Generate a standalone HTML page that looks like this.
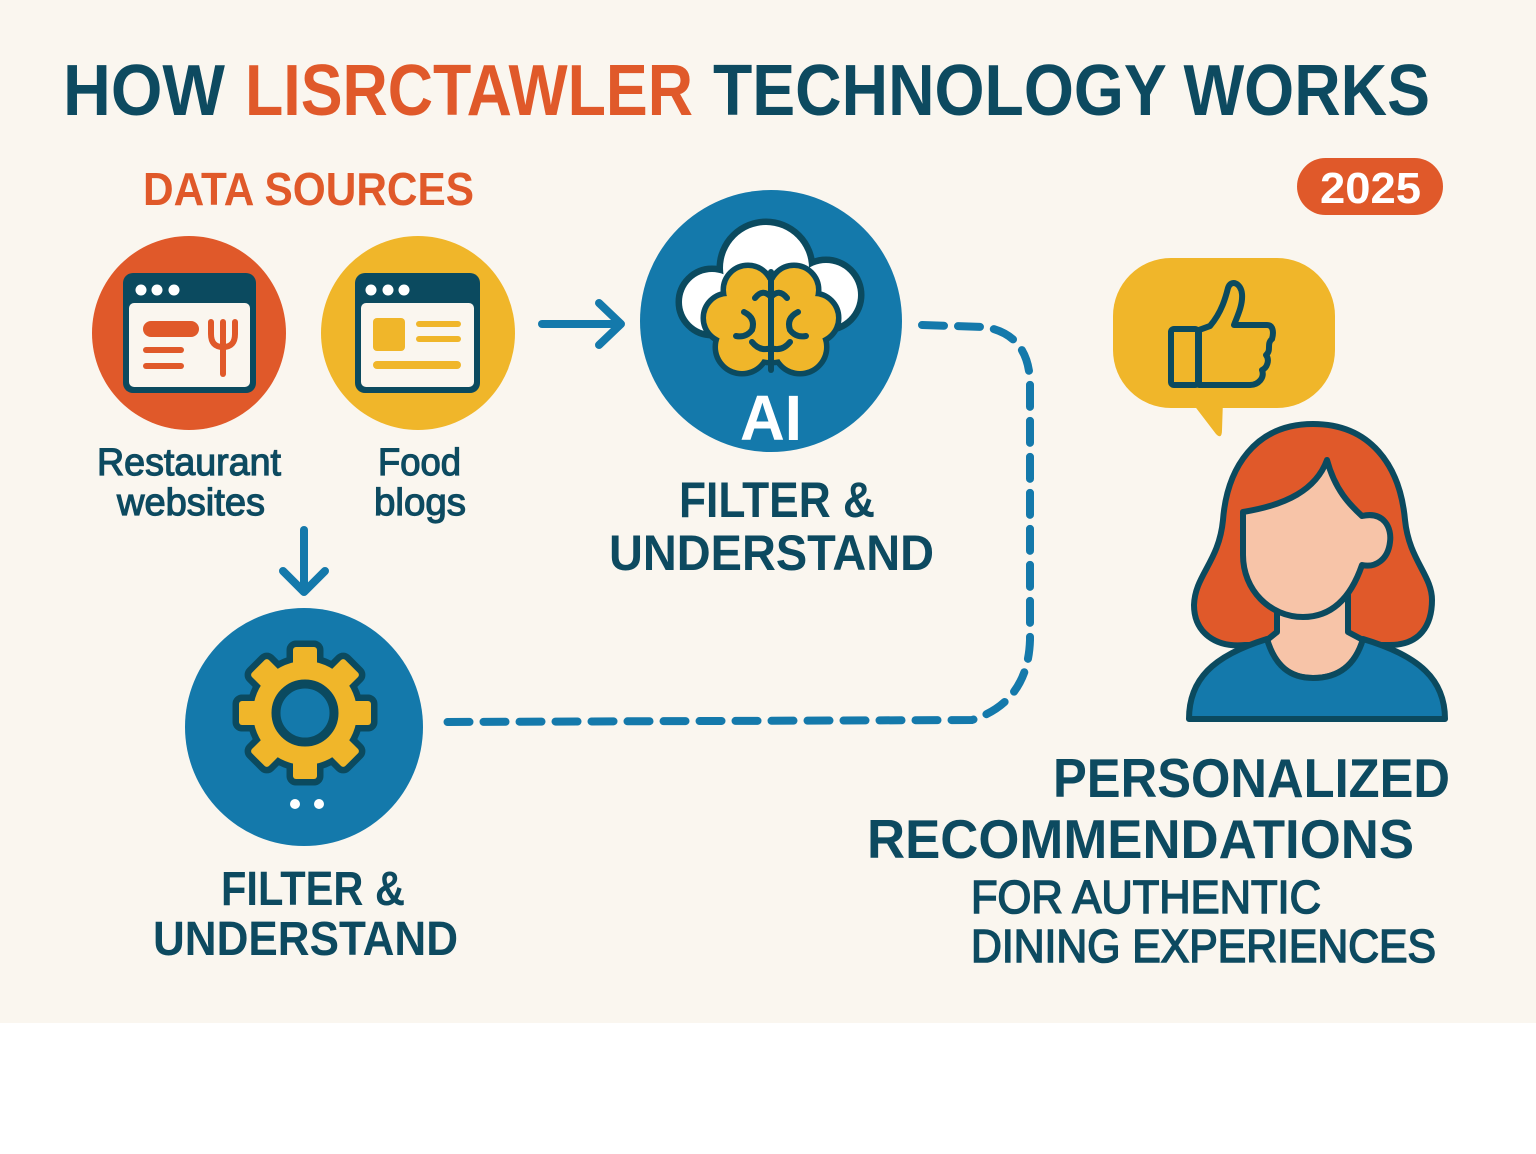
<!DOCTYPE html>
<html>
<head>
<meta charset="utf-8">
<style>
html,body{margin:0;padding:0;background:#ffffff;}
svg{display:block;}
text{font-family:"Liberation Sans",sans-serif;}
</style>
</head>
<body>
<svg width="1536" height="1154" viewBox="0 0 1536 1154" xmlns="http://www.w3.org/2000/svg">
  <rect x="0" y="0" width="1536" height="1023" fill="#FAF6EF"/>
  <rect x="0" y="1023" width="1536" height="131" fill="#FFFFFF"/>

  <!-- Title -->
  <g font-weight="bold" font-size="72">
    <text x="63" y="115" fill="#0D4A60" textLength="162" lengthAdjust="spacingAndGlyphs">HOW</text>
    <text x="245" y="115" fill="#E0592A" textLength="448" lengthAdjust="spacingAndGlyphs">LISRCTAWLER</text>
    <text x="713" y="115" fill="#0D4A60" textLength="717" lengthAdjust="spacingAndGlyphs">TECHNOLOGY WORKS</text>
  </g>

  <!-- Data sources -->
  <text x="143" y="205" font-weight="bold" font-size="46" fill="#E0592A" textLength="331" lengthAdjust="spacingAndGlyphs">DATA SOURCES</text>

  <!-- 2025 badge -->
  <rect x="1297" y="158" width="146" height="57" rx="28.5" fill="#E0592A"/>
  <text x="1320" y="203" font-weight="bold" font-size="44" fill="#FFFFFF" textLength="101" lengthAdjust="spacingAndGlyphs">2025</text>

  <!-- Restaurant circle -->
  <circle cx="189" cy="333" r="97" fill="#E0592A"/>
  <rect x="123" y="273" width="133" height="120" rx="10" fill="#0B4A5F"/>
  <rect x="129" y="303" width="121" height="84" rx="5" fill="#FAF6EF"/>
  <circle cx="141" cy="290" r="5.5" fill="#FFFFFF"/>
  <circle cx="157" cy="290" r="5.5" fill="#FFFFFF"/>
  <circle cx="174" cy="290" r="5.5" fill="#FFFFFF"/>
  <rect x="143" y="321" width="56" height="16" rx="8" fill="#E0592A"/>
  <rect x="143" y="347" width="41" height="6" rx="3" fill="#E0592A"/>
  <rect x="143" y="363" width="41" height="6" rx="3" fill="#E0592A"/>
  <g stroke="#E0592A" stroke-width="6" fill="none" stroke-linecap="round">
    <path d="M211 322 L211 334 Q211 347 223 347 Q235 347 235 334 L235 322"/>
    <path d="M223 322 L223 374"/>
  </g>

  <!-- Food circle -->
  <circle cx="418" cy="333" r="97" fill="#F0B62A"/>
  <rect x="355" y="273" width="125" height="120" rx="10" fill="#0B4A5F"/>
  <rect x="361" y="303" width="113" height="84" rx="5" fill="#FAF6EF"/>
  <circle cx="371" cy="290" r="5.5" fill="#FFFFFF"/>
  <circle cx="388" cy="290" r="5.5" fill="#FFFFFF"/>
  <circle cx="404" cy="290" r="5.5" fill="#FFFFFF"/>
  <rect x="373" y="318" width="32" height="33" rx="4" fill="#F0B62A"/>
  <rect x="416" y="321" width="45" height="6" rx="3" fill="#F0B62A"/>
  <rect x="416" y="336" width="45" height="6" rx="3" fill="#F0B62A"/>
  <rect x="373" y="361" width="88" height="8" rx="4" fill="#F0B62A"/>

  <!-- Source labels -->
  <g font-size="38" fill="#0D4A60" stroke="#0D4A60" stroke-width="1.2">
    <text x="97" y="475" textLength="184" lengthAdjust="spacingAndGlyphs">Restaurant</text>
    <text x="117" y="515" textLength="148" lengthAdjust="spacingAndGlyphs">websites</text>
    <text x="378" y="475" textLength="83" lengthAdjust="spacingAndGlyphs">Food</text>
    <text x="374" y="515" textLength="92" lengthAdjust="spacingAndGlyphs">blogs</text>
  </g>

  <!-- Arrows -->
  <g stroke="#1479AB" stroke-width="8" fill="none" stroke-linecap="round" stroke-linejoin="round">
    <path d="M542 324 L620 324"/>
    <path d="M599 303 L621 324 L599 345"/>
    <path d="M304 530 L304 590"/>
    <path d="M283 571 L304 592 L325 571"/>
  </g>

  <!-- Dashed connector -->
  <path d="M922 325 L985 327 Q1030 335 1030 385 L1030 640 Q1028 702 972 720 L445 722" stroke="#1479AB" stroke-width="8" fill="none" stroke-linecap="round" stroke-dasharray="22 14"/>

  <!-- AI circle -->
  <circle cx="771" cy="321" r="131" fill="#1479AB"/>
  <!-- cloud -->
  <g stroke="#0B4A5F" stroke-width="13" fill="#0B4A5F">
    <circle cx="712" cy="302" r="30"/>
    <circle cx="766" cy="268" r="43"/>
    <circle cx="826" cy="295" r="32"/>
    <rect x="712" y="285" width="114" height="42"/>
  </g>
  <g fill="#FFFFFF">
    <circle cx="712" cy="302" r="30"/>
    <circle cx="766" cy="268" r="43"/>
    <circle cx="826" cy="295" r="32"/>
    <rect x="712" y="285" width="114" height="42"/>
  </g>
  <!-- brain -->
  <g stroke="#0B4A5F" stroke-width="11" fill="#0B4A5F">
    <circle cx="748" cy="290" r="22"/>
    <circle cx="794" cy="290" r="22"/>
    <circle cx="728" cy="318" r="22"/>
    <circle cx="814" cy="318" r="22"/>
    <circle cx="742" cy="347" r="24"/>
    <circle cx="800" cy="347" r="24"/>
    <circle cx="771" cy="320" r="40"/>
  </g>
  <g fill="#F0B62A">
    <circle cx="748" cy="290" r="22"/>
    <circle cx="794" cy="290" r="22"/>
    <circle cx="728" cy="318" r="22"/>
    <circle cx="814" cy="318" r="22"/>
    <circle cx="742" cy="347" r="24"/>
    <circle cx="800" cy="347" r="24"/>
    <circle cx="771" cy="320" r="40"/>
  </g>
  <g stroke="#0B4A5F" stroke-width="6" fill="none" stroke-linecap="round">
    <path d="M771 272 L771 370"/>
    <path d="M755 298 Q763 288 771 297 Q779 288 787 298"/>
    <path d="M744 312 Q756 318 752 330 Q746 338 736 336"/>
    <path d="M798 312 Q786 318 790 330 Q796 338 806 336"/>
    <path d="M752 342 Q760 352 771 348 Q782 352 790 342"/>
  </g>
  <text x="740" y="440" font-weight="bold" font-size="64" fill="#FFFFFF" textLength="62" lengthAdjust="spacingAndGlyphs">AI</text>

  <g font-weight="bold" font-size="50" fill="#0D4A60">
    <text x="679" y="517" textLength="196" lengthAdjust="spacingAndGlyphs">FILTER &amp;</text>
    <text x="609" y="570" textLength="325" lengthAdjust="spacingAndGlyphs">UNDERSTAND</text>
  </g>

  <!-- Gear circle -->
  <circle cx="304" cy="727" r="119" fill="#1479AB"/>
  <g transform="translate(305,713)">
    <g stroke="#0B4A5F" stroke-width="13" fill="#0B4A5F" stroke-linejoin="round">
      <circle r="52"/>
      <rect x="-12" y="-66" width="24" height="30" rx="3"/>
      <rect x="-12" y="-66" width="24" height="30" rx="3" transform="rotate(45)"/>
      <rect x="-12" y="-66" width="24" height="30" rx="3" transform="rotate(90)"/>
      <rect x="-12" y="-66" width="24" height="30" rx="3" transform="rotate(135)"/>
      <rect x="-12" y="-66" width="24" height="30" rx="3" transform="rotate(180)"/>
      <rect x="-12" y="-66" width="24" height="30" rx="3" transform="rotate(225)"/>
      <rect x="-12" y="-66" width="24" height="30" rx="3" transform="rotate(270)"/>
      <rect x="-12" y="-66" width="24" height="30" rx="3" transform="rotate(315)"/>
    </g>
    <g fill="#F0B62A">
      <circle r="52"/>
      <rect x="-12" y="-66" width="24" height="30" rx="3"/>
      <rect x="-12" y="-66" width="24" height="30" rx="3" transform="rotate(45)"/>
      <rect x="-12" y="-66" width="24" height="30" rx="3" transform="rotate(90)"/>
      <rect x="-12" y="-66" width="24" height="30" rx="3" transform="rotate(135)"/>
      <rect x="-12" y="-66" width="24" height="30" rx="3" transform="rotate(180)"/>
      <rect x="-12" y="-66" width="24" height="30" rx="3" transform="rotate(225)"/>
      <rect x="-12" y="-66" width="24" height="30" rx="3" transform="rotate(270)"/>
      <rect x="-12" y="-66" width="24" height="30" rx="3" transform="rotate(315)"/>
    </g>
    <circle r="29" fill="#1479AB" stroke="#0B4A5F" stroke-width="9"/>
  </g>
  <circle cx="295" cy="804" r="5" fill="#FFFFFF"/>
  <circle cx="319" cy="804" r="5" fill="#FFFFFF"/>

  <g font-weight="bold" font-size="48" fill="#0D4A60">
    <text x="221" y="905" textLength="184" lengthAdjust="spacingAndGlyphs">FILTER &amp;</text>
    <text x="153" y="955" textLength="305" lengthAdjust="spacingAndGlyphs">UNDERSTAND</text>
  </g>

  <!-- Speech bubble -->
  <rect x="1113" y="258" width="222" height="150" rx="58" fill="#F0B62A"/>
  <path d="M1190 400 L1216 434 Q1222 440 1222 430 L1223 400 Z" fill="#F0B62A"/>
  <g stroke="#0B4A5F" stroke-width="6" fill="#F0B62A" stroke-linejoin="round">
    <rect x="1171" y="329" width="27" height="56" rx="3"/>
    <path d="M1199 330 L1210 326 C1222 312 1226 296 1228 288 C1231 279 1241 283 1242 294 C1243 305 1237 317 1234 325 L1267 325 C1273 325 1274 332 1272 339 C1266 344 1272 350 1266 355 C1270 360 1267 368 1262 370 C1265 378 1258 385 1250 385 L1199 385 Z"/>
  </g>

  <!-- Woman -->
  <g stroke="#0B4A5F" stroke-width="6" stroke-linejoin="round">
    <path d="M1313 424 C1255 424 1227 468 1223 520 C1219 562 1195 575 1194 605 C1194 632 1215 648 1245 645 L1390 645 C1420 645 1432 625 1432 600 C1432 575 1409 560 1405 520 C1400 465 1370 424 1313 424 Z" fill="#E0592A"/>
    <path d="M1277 595 L1277 632 L1267 640 C1275 666 1290 678 1313 678 C1338 678 1355 666 1363 640 L1348 632 L1348 595 Z" fill="#F7C4A8"/>
    <path d="M1189 719 C1189 680 1212 656 1267 639 C1275 666 1290 678 1313 678 C1338 678 1355 666 1363 639 C1420 656 1445 680 1445 719 Z" fill="#1479AB"/>
    <path d="M1243 512 C1286 505 1316 490 1327 460 C1335 490 1350 505 1362 516 C1384 511 1392 528 1390 542 C1388 560 1375 568 1362 565 C1350 600 1330 617 1303 617 C1270 617 1243 590 1243 555 Z" fill="#F7C4A8"/>
  </g>

  <!-- Personalized recommendations -->
  <g font-weight="bold" font-size="55" fill="#0D4A60">
    <text x="1053" y="797" textLength="397" lengthAdjust="spacingAndGlyphs">PERSONALIZED</text>
    <text x="867" y="858" textLength="547" lengthAdjust="spacingAndGlyphs">RECOMMENDATIONS</text>
  </g>
  <g font-size="46" fill="#0D4A60" stroke="#0D4A60" stroke-width="1.6">
    <text x="971" y="913" textLength="350" lengthAdjust="spacingAndGlyphs">FOR AUTHENTIC</text>
    <text x="971" y="962" textLength="465" lengthAdjust="spacingAndGlyphs">DINING EXPERIENCES</text>
  </g>
</svg>
</body>
</html>
